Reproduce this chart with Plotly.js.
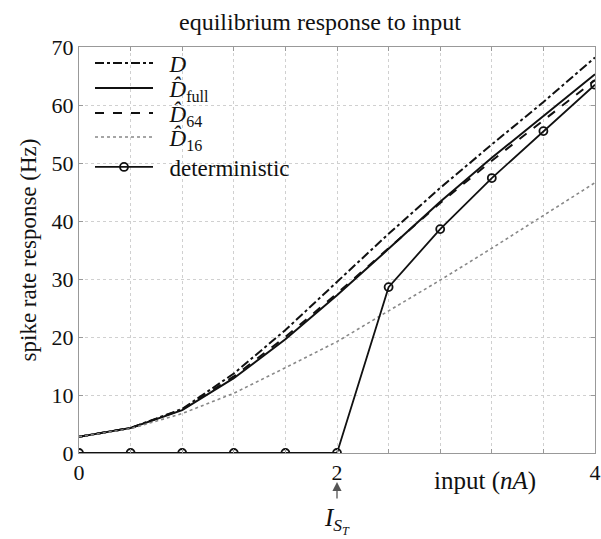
<!DOCTYPE html>
<html>
<head>
<meta charset="utf-8">
<script src="https://cdn.plot.ly/plotly-3.0.1.min.js"></script>
<style>html,body{margin:0;padding:0;background:#fff;}#chart{width:601px;height:539px;}</style>
</head>
<body>
<div id="chart"></div>
<script>
// data
const inputNA = [0, 0.4, 0.8, 1.2, 1.6, 2.0, 2.4, 2.8, 3.2, 3.6, 4.0];
const rateD = [2.8, 4.3, 7.6, 13.7, 21.2, 29.5, 37.8, 45.7, 53.2, 60.5, 68.2];
const rateDfull = [2.8, 4.3, 7.4, 12.9, 19.6, 27.2, 35.2, 43.3, 50.9, 58.1, 65.3];
const rateD64 = [2.8, 4.3, 7.5, 13.2, 20.0, 27.5, 35.3, 43.1, 50.4, 57.3, 64.3];
const rateD16 = [2.8, 4.2, 6.8, 10.3, 14.7, 19.2, 24.5, 29.8, 35.3, 40.9, 46.6];
const rateDet = [0, 0, 0, 0, 0, 0, 28.6, 38.6, 47.4, 55.5, 63.5];
const seriesNames = ['<i>D</i>', '<i>D̂</i><sub>full</sub>', '<i>D̂</i><sub>64</sub>', '<i>D̂</i><sub>16</sub>', 'deterministic'];
const xTickVals = [0, 0.4, 0.8, 1.2, 1.6, 2.0, 2.4, 2.8, 3.2, 3.6, 4.0];
const xTickText = ['0', '', '', '', '', '2', '', '', '', '', '4'];
const yTickVals = [0, 10, 20, 30, 40, 50, 60, 70];

const serif = 'Liberation Serif';
const plotTop = 47, plotBottom = 453, plotH = plotBottom - plotTop;
const legendRowsPx = [63, 88, 113, 137, 167];

const lineStyles = [
  {color: '#111', width: 2, dash: 'dashdot'},
  {color: '#111', width: 2, dash: 'solid'},
  {color: '#111', width: 2, dash: 'dash'},
  {color: '#888', width: 1.6, dash: 'dot'},
  {color: '#111', width: 1.8, dash: 'solid'}
];
const seriesY = [rateD, rateDfull, rateD64, rateD16, rateDet];
const legendIds = ['legend', 'legend2', 'legend3', 'legend4', 'legend5'];

const traces = seriesY.map((ys, i) => {
  const t = {x: inputNA, y: ys, name: '&nbsp;&nbsp;' + seriesNames[i], mode: 'lines',
             line: lineStyles[i], legend: legendIds[i]};
  if (i === 4) {
    t.mode = 'lines+markers';
    t.marker = {symbol: 'circle-open', size: 8, color: '#111', line: {width: 1.8}};
  }
  return t;
});

const layout = {
  width: 601, height: 539,
  margin: {l: 79, r: 6, t: plotTop, b: 539 - plotBottom},
  paper_bgcolor: '#fff', plot_bgcolor: '#fff',
  font: {family: serif, color: '#111', size: 22},
  title: {text: 'equilibrium response to input', font: {family: serif, size: 24, color: '#111'},
          x: 320 / 601, xanchor: 'center', y: 1 - 22 / 539, yanchor: 'middle', yref: 'container'},
  showlegend: true,
  xaxis: {range: [0, 4], tickvals: xTickVals, ticktext: xTickText, ticks: 'inside', ticklen: 4,
          tickcolor: '#999', showline: true, linecolor: '#999', linewidth: 1, mirror: 'ticks',
          showgrid: true, gridcolor: '#d0d0d0', griddash: 'dot', gridwidth: 1, zeroline: false,
          tickfont: {family: serif, size: 22, color: '#111'}},
  yaxis: {range: [0, 70], tickvals: yTickVals, ticks: 'inside', ticklen: 4,
          tickcolor: '#999', showline: true, linecolor: '#999', linewidth: 1, mirror: 'ticks',
          showgrid: true, gridcolor: '#d0d0d0', griddash: 'dot', gridwidth: 1, zeroline: false,
          tickfont: {family: serif, size: 22, color: '#111'},
          title: {text: 'spike rate response (Hz)', font: {family: serif, size: 23, color: '#111'}, standoff: 8}},
  annotations: [
    {x: 2, y: -29 / plotH, xref: 'x', yref: 'paper', text: ' ', showarrow: true, font: {size: 2},
     ax: 0, ay: 19, arrowhead: 2, arrowsize: 1.4, arrowwidth: 1.3, arrowcolor: '#555', standoff: 0},
    {x: 2, y: -68 / plotH, xref: 'x', yref: 'paper', text: '<i>I<sub>S<sub>T</sub></sub></i>', showarrow: false,
     font: {family: serif, size: 25, color: '#111'}, yanchor: 'middle'},
    {x: 3.15, y: -28 / plotH, xref: 'x', yref: 'paper', text: 'input (<i>nA</i>)', showarrow: false,
     xanchor: 'center', yanchor: 'middle', font: {family: serif, size: 25, color: '#111'}}
  ]
};

legendIds.forEach((id, i) => {
  layout[id] = {x: 11 / 516, y: (plotBottom - legendRowsPx[i]) / plotH, xanchor: 'left', yanchor: 'middle',
                bgcolor: 'rgba(255,255,255,0)', borderwidth: 0, itemwidth: 58,
                font: {family: serif, size: 23, color: '#111'}};
});

Plotly.newPlot('chart', traces, layout, {displayModeBar: false, staticPlot: true});
</script>
</body>
</html>
